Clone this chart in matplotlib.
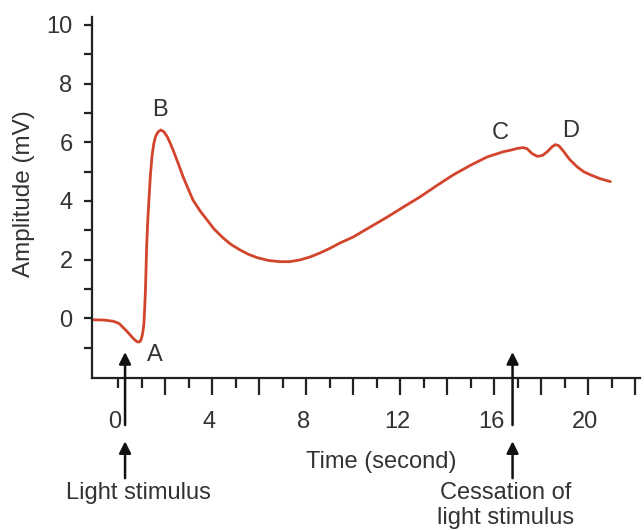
import matplotlib
matplotlib.use("Agg")
import matplotlib.pyplot as plt

# ── Data ─────────────────────────────────────────────────────────────────────
time_s = [-1.1, -0.6, -0.2, 0.05, 0.2, 0.35, 0.5, 0.62, 0.72, 0.8, 0.85, 0.92,
          0.97, 1.02, 1.06, 1.1, 1.12, 1.14, 1.16, 1.19, 1.22, 1.27, 1.32,
          1.38, 1.45, 1.52, 1.6, 1.7, 1.82, 1.95, 2.1, 2.22, 2.34, 2.55, 2.77,
          3.0, 3.19, 3.5, 3.79, 4.1, 4.47, 4.8, 5.19, 5.55, 5.91, 6.4, 6.89,
          7.3, 7.74, 8.2, 8.6, 9.0, 9.45, 10.0, 10.7, 11.45, 12.15, 12.85,
          13.55, 14.26, 15.0, 15.7, 16.4, 16.75, 16.98, 17.23, 17.4, 17.6,
          17.83, 18.05, 18.26, 18.45, 18.6, 18.75, 18.94, 19.2, 19.53, 19.8,
          20.09, 20.5, 20.94]
amplitude = [-0.05, -0.06, -0.1, -0.18, -0.3, -0.42, -0.55, -0.66, -0.74,
             -0.79, -0.81, -0.8, -0.75, -0.62, -0.45, -0.2, 0.1, 0.45, 0.8,
             1.6, 2.5, 3.4, 4.1, 4.9, 5.55, 5.95, 6.2, 6.35, 6.42, 6.36, 6.18,
             5.97, 5.74, 5.3, 4.82, 4.38, 4.03, 3.65, 3.35, 3.03, 2.74, 2.52,
             2.33, 2.18, 2.07, 1.97, 1.93, 1.93, 1.99, 2.1, 2.23, 2.38, 2.57,
             2.77, 3.1, 3.45, 3.8, 4.14, 4.52, 4.89, 5.22, 5.5, 5.68, 5.74,
             5.79, 5.82, 5.78, 5.62, 5.52, 5.55, 5.68, 5.84, 5.92, 5.88, 5.7,
             5.42, 5.16, 5.0, 4.89, 4.76, 4.66]

point_labels = ["A", "B", "C", "D"]
point_x = [1.57, 1.8, 16.25, 19.25]
point_y = [-1.25, 7.1, 6.32, 6.37]

x_labels = [0, 4, 8, 12, 16, 20]
y_labels = [0, 2, 4, 6, 8, 10]

stim_on = 0.3
stim_off = 16.78

# ── Style ────────────────────────────────────────────────────────────────────
plt.rcParams["font.family"] = ["Liberation Sans", "DejaVu Sans"]
TXT = "#333333"
AX = "#222222"
RED = "#d2442c"
FS = 17

fig = plt.figure(figsize=(6.44, 5.30), dpi=100)
ax = fig.add_axes([92 / 644, 1 - 378 / 530, 548 / 644, 361 / 530])

ax.plot(time_s, amplitude, color=RED, lw=2.0, solid_capstyle="round",
        solid_joinstyle="round", antialiased=True)

for lab, x, y in zip(point_labels, point_x, point_y):
    ax.text(x, y, lab, fontsize=FS, color=TXT, ha="center", va="center")

ax.set_xlim(-1.106, 22.2)
ax.set_ylim(-2.035, 10.27)

for side in ("top", "right"):
    ax.spines[side].set_visible(False)
for side in ("left", "bottom"):
    ax.spines[side].set_linewidth(1.6)
    ax.spines[side].set_color(AX)

# long ticks on even seconds, short ticks on odd ones (and at 0)
ax.set_xticks(range(2, 23, 2))
ax.set_xticks([0] + list(range(1, 22, 2)), minor=True)
ax.set_xticklabels([])
ax.tick_params(axis="x", which="major", length=12, width=1.6, color=AX)
ax.tick_params(axis="x", which="minor", length=7.5, width=1.6, color=AX)
for v in x_labels:
    ax.text(v - 0.12, -3.55, str(v), fontsize=FS, color=TXT, ha="center",
            va="center", clip_on=False)

ax.set_yticks(y_labels)
ax.set_yticks(range(-1, 10, 2), minor=True)
ax.set_yticklabels([str(v) for v in y_labels])
ax.tick_params(axis="y", which="both", length=5.5, width=1.6, color=AX,
               labelsize=FS, labelcolor=TXT, pad=8.5)

ax.set_ylabel("Amplitude (mV)", fontsize=17.5, color=TXT)
ax.yaxis.set_label_coords(-0.104, 0.51)

ax.text(11.2, -4.9, "Time (second)", fontsize=FS, color=TXT, ha="center",
        va="center", clip_on=False)

arrow = dict(arrowstyle="-|>,head_width=0.35,head_length=0.7", color="#111111",
             lw=1.8, shrinkA=0, shrinkB=0)
for xs in (stim_on, stim_off):
    ax.annotate("", xy=(xs, -1.15), xytext=(xs, -3.64), arrowprops=arrow,
                annotation_clip=False)
    ax.annotate("", xy=(xs, -4.19), xytext=(xs, -5.45), arrowprops=arrow,
                annotation_clip=False)

ax.text(0.85, -5.95, "Light stimulus", fontsize=FS, color=TXT, ha="center",
        va="center", clip_on=False)
ax.text(16.5, -5.95, "Cessation of", fontsize=FS, color=TXT, ha="center",
        va="center", clip_on=False)
ax.text(16.5, -6.82, "light stimulus", fontsize=FS, color=TXT, ha="center",
        va="center", clip_on=False)

fig.savefig("out.png", dpi=100)
